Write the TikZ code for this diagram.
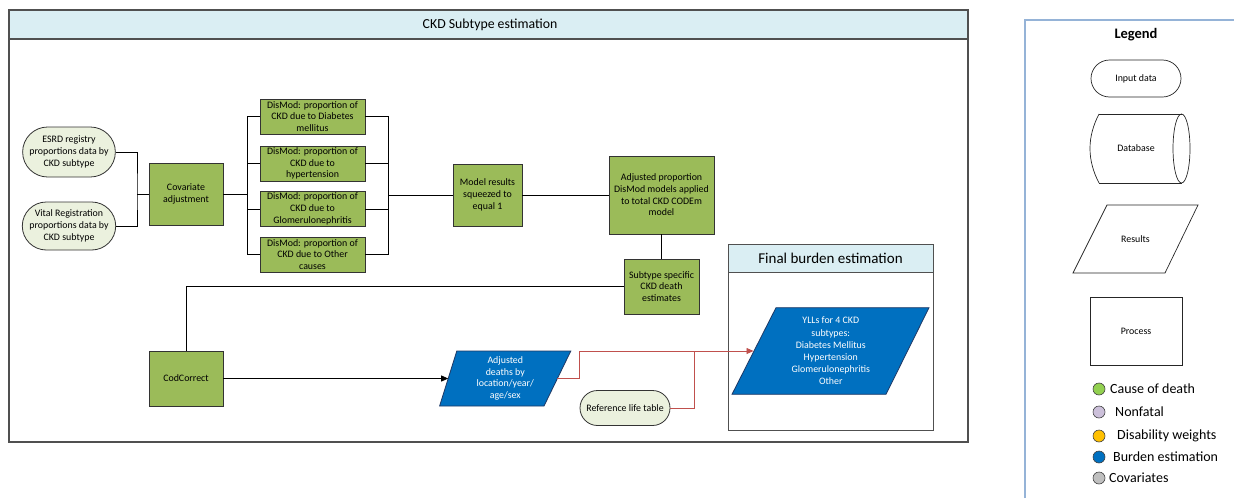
\documentclass[tikz,border=0pt]{standalone}
\usepackage{fontspec}
\setmainfont{Carlito}
\usetikzlibrary{arrows.meta,shapes.misc}
\definecolor{hdrblue}{HTML}{DAEEF3}
\definecolor{framegray}{HTML}{505050}
\definecolor{procgreen}{HTML}{9BBB59}
\definecolor{inputgreen}{HTML}{EBF1DE}
\definecolor{burdenblue}{HTML}{0070C0}
\definecolor{navyline}{HTML}{1F3864}
\definecolor{flowred}{HTML}{C0504D}
\definecolor{legendline}{HTML}{95B3D7}
\definecolor{codgreen}{HTML}{92D050}
\definecolor{nflilac}{HTML}{CCC0DA}
\definecolor{dwgold}{HTML}{FFC000}
\definecolor{covgray}{HTML}{BFBFBF}
\begin{document}
\begin{tikzpicture}[x=1pt,y=-1pt,
  smalltext/.style={font=\fontsize{9.9}{11.7}\selectfont, align=center, inner sep=1pt, text=black},
  procbox/.style={smalltext, draw=black!80, line width=0.8pt, fill=procgreen},
  inputpill/.style={smalltext, rounded rectangle, draw=black!80, line width=0.8pt, fill=inputgreen, minimum width=92pt},
  bluepara/.style={fill=burdenblue, draw=navyline, line width=0.8pt},
  paratext/.style={smalltext, text=white},
  link/.style={draw=black, line width=0.8pt},
  redlink/.style={draw=flowred, line width=0.8pt},
  legendshape/.style={draw=black!85, line width=0.7pt},
  legenddot/.style={circle, draw=black!75, line width=0.6pt, minimum size=12pt, inner sep=0pt},
  legendtext/.style={font=\fontsize{14}{16}\selectfont, anchor=west, inner sep=0pt}
]
\useasboundingbox (0,0) rectangle (1234,498);

% ---- CKD subtype estimation frame ----
\draw[framegray, line width=1.1pt, fill=white] (9,10) rectangle (968,442);
\draw[framegray, line width=1.1pt, fill=hdrblue] (9,10) rectangle (968,39);
\node[font=\fontsize{13.8}{15}\selectfont] (maintitle) at (490,24.5) {CKD Subtype estimation};

% ---- Final burden estimation frame ----
\draw[framegray, line width=1pt, fill=white] (728,244) rectangle (933,430);
\draw[framegray, line width=1pt, fill=hdrblue] (728,244) rectangle (933,272.5);
\node[font=\fontsize{15}{17}\selectfont] (fbtitle) at (830.5,258.5) {Final burden estimation};

% ---- input data ----
\node[inputpill, minimum height=50pt] (esrd) at (69,152) {ESRD registry\\proportions data by\\CKD subtype};
\node[inputpill, minimum height=48pt] (vr) at (69,226) {Vital Registration\\proportions data by\\CKD subtype};

% ---- processes ----
\node[procbox, minimum width=74pt, minimum height=62pt] (cov) at (186,194) {Covariate\\adjustment};
\node[procbox, minimum width=105pt, minimum height=35pt] (dm1) at (312.5,116.5) {DisMod: proportion of\\CKD due to Diabetes\\mellitus};
\node[procbox, minimum width=105pt, minimum height=35pt] (dm2) at (312.5,163.5) {DisMod: proportion of\\CKD due to\\hypertension};
\node[procbox, minimum width=105pt, minimum height=35pt] (dm3) at (312.5,209) {DisMod: proportion of\\CKD due to\\Glomerulonephritis};
\node[procbox, minimum width=105pt, minimum height=35pt] (dm4) at (312.5,254.5) {DisMod: proportion of\\CKD due to Other\\causes};
\node[procbox, minimum width=69pt, minimum height=62pt] (model) at (487.5,195) {Model results\\squeezed to\\equal 1};
\node[procbox, minimum width=105pt, minimum height=78pt] (adjp) at (661.5,195) {Adjusted proportion\\DisMod models applied\\to total CKD CODEm\\model};
\node[procbox, minimum width=75pt, minimum height=55pt] (sub) at (661.5,286.5) {Subtype specific\\CKD death\\estimates};
\node[procbox, minimum width=74pt, minimum height=55pt] (cod) at (186,378.5) {CodCorrect};

% ---- results (parallelograms) ----
\path[bluepara] (456.8,351) -- (570.8,351) -- (544,406) -- (439.6,406) -- cycle;
\node[paratext] (adjd) at (505.3,378.5) {Adjusted\\deaths by\\location/year/\\age/sex};
\coordinate (adjdW) at (448.2,378.5);
\coordinate (adjdE) at (557.4,378.5);

\path[bluepara] (776,307.7) -- (929,307.7) -- (886,394.3) -- (732,394.3) -- cycle;
\node[paratext, font=\fontsize{9.9}{12.2}\selectfont] (yll) at (830.8,351) {YLLs for 4 CKD\\subtypes:\\Diabetes Mellitus\\Hypertension\\Glomerulonephritis\\Other};
\coordinate (yllW) at (753.5,351);

\node[inputpill, minimum height=35pt] (ref) at (625,408) {Reference life table};

% ---- connectors ----
\coordinate (j1) at (137,194);
\draw[link] (esrd.east) -| (j1) |- (vr.east);
\draw[link] (j1) -- (cov.west);

\coordinate (j2) at (247,194);
\draw[link] (cov.east) -- (j2);
\draw[link] (j2) |- (dm1.west);
\draw[link] (j2) |- (dm2.west);
\draw[link] (j2) |- (dm3.west);
\draw[link] (j2) |- (dm4.west);

\coordinate (j3) at (388,195);
\draw[link] (dm1.east) -| (j3);
\draw[link] (dm2.east) -| (j3);
\draw[link] (dm3.east) -| (j3);
\draw[link] (dm4.east) -| (j3);
\draw[link] (j3) -- (model.west);

\draw[link] (model.east) -- (adjp.west);
\draw[link] (adjp.south) -- (sub.north);
\draw[link] (sub.west) -| (cod.north);
\draw[link, -{Triangle[length=7pt,width=6pt]}] (cod.east) -- (adjdW);

\coordinate (rj) at (694,351);
\draw[redlink, -{Triangle[length=7pt,width=6pt]}] (adjdE) -- (579,378.5) |- (yllW);
\draw[redlink] (ref.east) -| (rj);

% ---- legend ----
\draw[legendline, line width=1.2pt] (1025,498) -- (1025,20) -- (1234,20);
\node[font=\bfseries\fontsize{14.5}{16}\selectfont] (legtitle) at (1136,35) {Legend};
\node[smalltext, rounded rectangle, legendshape, minimum width=92pt, minimum height=37pt] (leginput) at (1136,78.5) {Input data};

\draw[legendshape] (1099,114) -- (1181.5,114);
\draw[legendshape] (1099,183) -- (1181.5,183);
\draw[legendshape] (1099,114) .. controls (1087,137) and (1087,160) .. (1099,183);
\draw[legendshape] (1181.5,148.5) ellipse [x radius=8.5, y radius=34.5];
\node[smalltext] (legdb) at (1136,148.5) {Database};

\draw[legendshape] (1107,205) -- (1198,205) -- (1165,273) -- (1073,273) -- cycle;
\node[smalltext] (legres) at (1135.5,239) {Results};

\node[smalltext, legendshape, minimum width=92pt, minimum height=68pt] (legproc) at (1136,331) {Process};

\node[legenddot, fill=codgreen] (d1) at (1099,389) {};
\node[legendtext] (t1) at (1110,389) {Cause of death};
\node[legenddot, fill=nflilac] (d2) at (1099,412) {};
\node[legendtext] (t2) at (1115,412) {Nonfatal};
\node[legenddot, fill=dwgold] (d3) at (1099,436) {};
\node[legendtext] (t3) at (1117,436) {Disability weights};
\node[legenddot, fill=burdenblue] (d4) at (1099,457) {};
\node[legendtext] (t4) at (1113,457) {Burden estimation};
\node[legenddot, fill=covgray] (d5) at (1099,478) {};
\node[legendtext] (t5) at (1109,478) {Covariates};
\end{tikzpicture}
\end{document}
